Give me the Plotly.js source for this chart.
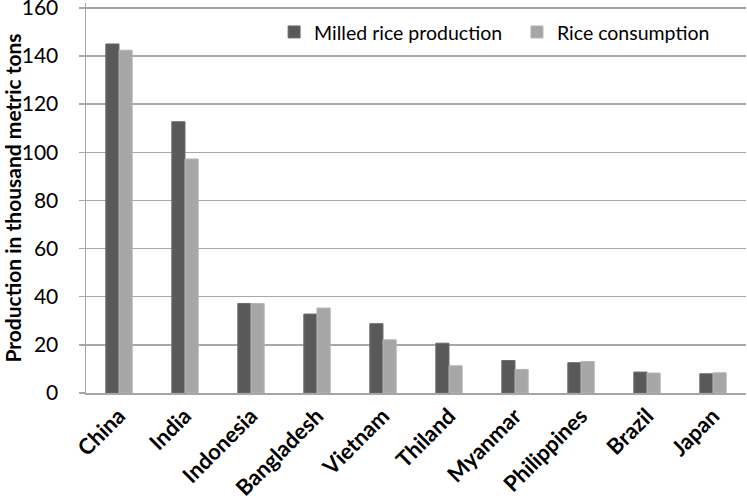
<!DOCTYPE html>
<html>
<head>
<meta charset="utf-8">
<script src="https://cdn.plot.ly/plotly-3.0.1.min.js"></script>
<style>html,body{margin:0;padding:0;background:#fff;}#chart{width:747px;height:501px;}</style>
</head>
<body>
<div id="chart"></div>
<script>
const countries = ["China","India","Indonesia","Bangladesh","Vietnam","Thiland","Myanmar","Philippines","Brazil","Japan"];
const milledProduction = [145.0, 112.7, 37.2, 32.8, 28.8, 20.7, 13.5, 12.6, 8.7, 8.0];
const riceConsumption = [142.4, 97.2, 37.2, 35.3, 22.1, 11.3, 9.8, 13.1, 8.3, 8.4];
const seriesNames = ["Milled rice production", "Rice consumption"];
const yTicks = [0, 20, 40, 60, 80, 100, 120, 140, 160];

const FONT = "Lato, 'Open Sans', sans-serif";
const traces = [
  {type:"bar", name:seriesNames[0], x:countries, y:milledProduction, legend:"legend",
   marker:{color:"#595959", line:{color:"#6e6e6e", width:1}}},
  {type:"bar", name:seriesNames[1], x:countries, y:riceConsumption, legend:"legend2",
   marker:{color:"#a6a6a6", line:{color:"#b4b4b4", width:1}}}
];
const legendFont = {family:FONT, size:19.5, color:"#000"};
const topTick = yTicks[yTicks.length - 1];
const layout = {
  width:747, height:501,
  margin:{l:86, r:1, t:3, b:108},
  paper_bgcolor:"#fff", plot_bgcolor:"#fff",
  barmode:"group", bargap:0.6, bargroupgap:0,
  font:{family:FONT, color:"#000"},
  showlegend:true,
  legend:{orientation:"h", x:0.285, xanchor:"left", y:0.925, yanchor:"middle",
          bgcolor:"rgba(0,0,0,0)", font:legendFont, itemwidth:30},
  legend2:{orientation:"h", x:0.653, xanchor:"left", y:0.925, yanchor:"middle",
          bgcolor:"rgba(0,0,0,0)", font:legendFont, itemwidth:30},
  shapes:[{type:"line", xref:"paper", x0:0, x1:1, yref:"y", y0:topTick, y1:topTick,
           line:{color:"#a0a0a0", width:1.5}, layer:"above"}],
  xaxis:{type:"category", tickangle:-45, tickfont:{family:FONT, size:22, weight:"bold", color:"#000"},
         showline:true, linecolor:"#a6a6a6", linewidth:1.5, ticks:"", showgrid:false, zeroline:false},
  yaxis:{range:[0,162], tickvals:yTicks, ticktext:yTicks.map(String),
         tickfont:{family:FONT, size:21, color:"#000"}, ticklabeloverflow:"allow",
         showline:true, linecolor:"#a6a6a6", linewidth:1.5,
         ticks:"outside", ticklen:6, tickcolor:"#a6a6a6", tickwidth:1.5,
         showgrid:true, gridcolor:"#a8a8a8", gridwidth:1.5, zeroline:false,
         ticklabelstandoff:16, automargin:false,
         title:{text:"Production in thousand metric tons", font:{family:FONT, size:21, weight:"bold", color:"#000"}, standoff:18}}
};
Plotly.newPlot("chart", traces, layout, {displayModeBar:false, staticPlot:true});
</script>
</body>
</html>
